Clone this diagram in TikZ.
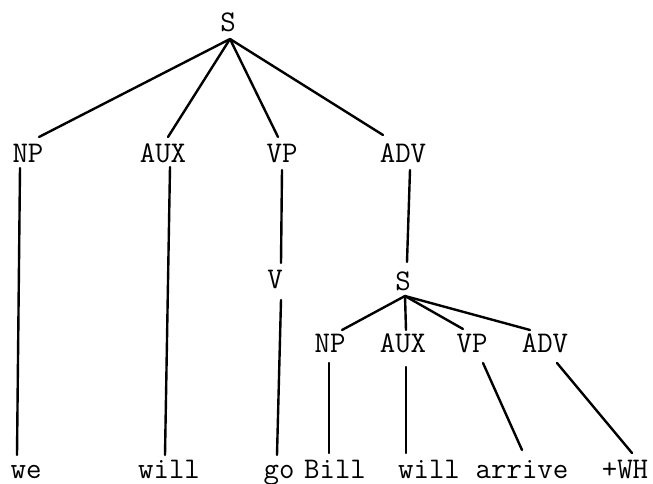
\documentclass[tikz,border=0pt]{standalone}
\begin{document}
\begin{tikzpicture}[x=1pt,y=-1pt,
  lab/.style={anchor=base,inner sep=0pt,outer sep=0pt,text height=18pt,text depth=0pt,
    font=\fontsize{30}{35}\selectfont\ttfamily},
  edge/.style={line width=2.4pt,line cap=round}]
\useasboundingbox (0,0) rectangle (653,484);
% top level
\node[lab] (S) at (228,32) {S};
\node[lab] (NP) at (28,162) {NP};
\node[lab] (AUX) at (163,162) {AUX};
\node[lab] (VP) at (282,162) {VP};
\node[lab] (ADV) at (403,162) {ADV};
\node[lab] (V) at (275,288) {V};
\node[lab] (S2) at (403,290) {S};
\node[lab] (NP2) at (330,352) {NP};
\node[lab] (AUX2) at (403,352) {AUX};
\node[lab] (VP2) at (472,352) {VP};
\node[lab] (ADV2) at (545,352) {ADV};
% words
\node[lab] (we) at (26,478) {we};
\node[lab] (will) at (169,478) {will};
\node[lab] (go) at (279,478) {go};
\node[lab] (Bill) at (335,478) {Bill};
\node[lab] (will2) at (429,478) {will};
\node[lab] (arrive) at (522,478) {arrive};
\node[lab] (WH) at (625,478) {+WH};
% connectors
\draw[edge] ([xshift=2pt,yshift=-7pt]S.south) -- ([xshift=11pt,yshift=7pt]NP.north);
\draw[edge] ([xshift=2pt,yshift=-7pt]S.south) -- ([xshift=5pt,yshift=7pt]AUX.north);
\draw[edge] ([xshift=2pt,yshift=-7pt]S.south) -- ([xshift=-4pt,yshift=7pt]VP.north);
\draw[edge] ([xshift=2pt,yshift=-7pt]S.south) -- ([xshift=-20pt,yshift=9pt]ADV.north);
\draw[edge] ([xshift=-8pt,yshift=-6pt]NP.south) -- ([xshift=-9pt,yshift=5pt]we.north);
\draw[edge] ([xshift=7pt,yshift=-5pt]AUX.south) -- ([xshift=-4pt,yshift=5pt]will.north);
\draw[edge] ([yshift=-8pt]VP.south) -- ([xshift=6pt,yshift=7pt]V.north);
\draw[edge] ([xshift=6pt,yshift=-12pt]V.south) -- ([xshift=-2pt,yshift=5pt]go.north);
\draw[edge] ([xshift=7pt,yshift=-8pt]ADV.south) -- ([xshift=4pt,yshift=10pt]S2.north);
\draw[edge] ([xshift=2pt,yshift=-6pt]S2.south) -- ([xshift=12pt,yshift=4pt]NP2.north);
\draw[edge] ([xshift=2pt,yshift=-6pt]S2.south) -- ([xshift=3pt,yshift=4pt]AUX2.north);
\draw[edge] ([xshift=2pt,yshift=-6pt]S2.south) -- ([xshift=-9pt,yshift=5pt]VP2.north);
\draw[edge] ([xshift=2pt,yshift=-6pt]S2.south) -- ([xshift=-15pt,yshift=4pt]ADV2.north);
\draw[edge] ([xshift=-1pt,yshift=-11pt]NP2.south) -- ([xshift=-6pt,yshift=7pt]Bill.north);
\draw[edge] ([xshift=3pt,yshift=-15pt]AUX2.south) -- ([xshift=-23pt,yshift=7pt]will2.north);
\draw[edge] ([xshift=11pt,yshift=-11pt]VP2.south) -- ([yshift=10pt]arrive.north);
\draw[edge] ([xshift=12pt,yshift=-11pt]ADV2.south) -- ([xshift=7pt,yshift=7pt]WH.north);
\end{tikzpicture}
\end{document}
